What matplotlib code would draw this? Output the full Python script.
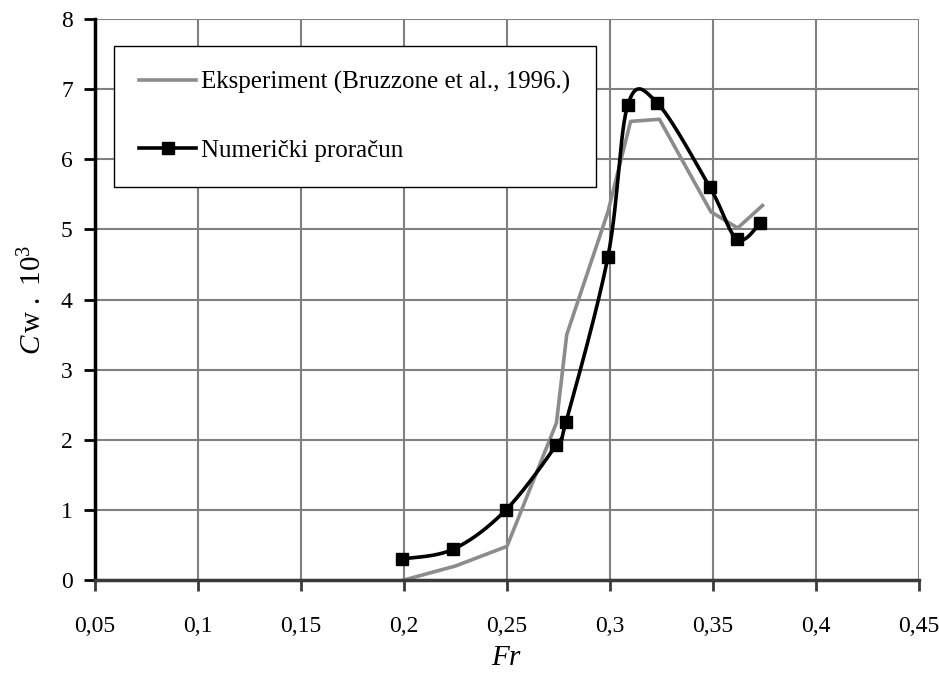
import numpy as np
import matplotlib
matplotlib.use("Agg")
import matplotlib.pyplot as plt
from matplotlib.ticker import FuncFormatter, MultipleLocator

plt.rcParams['font.family'] = ['Liberation Serif', 'DejaVu Serif']
plt.rcParams['mathtext.fontset'] = 'custom'
plt.rcParams['mathtext.rm'] = 'Liberation Serif'
plt.rcParams['mathtext.it'] = 'Liberation Serif:italic'

# Eksperiment (Bruzzone et al., 1996.)
fr_exp = [0.200, 0.225, 0.250, 0.274, 0.279, 0.299, 0.310, 0.324, 0.349, 0.362, 0.374]
cw_exp = [0.00, 0.20, 0.48, 2.24, 3.50, 5.25, 6.54, 6.57, 5.25, 5.02, 5.34]

# Numerički proračun
fr_num = [0.199, 0.224, 0.2495, 0.274, 0.2786, 0.299, 0.3087, 0.323, 0.3485, 0.3617, 0.373]
cw_num = [0.30, 0.44, 1.00, 1.93, 2.25, 4.61, 6.78, 6.80, 5.60, 4.86, 5.09]


def smooth(x, y, n=30):
    # bezier smoothing like the spreadsheet "smoothed line"
    p = np.column_stack([x, y])
    out = [p[0]]
    for i in range(len(p) - 1):
        p0 = p[i - 1] if i > 0 else p[i]
        p3 = p[i + 2] if i + 2 < len(p) else p[i + 1]
        c1 = p[i] + (p[i + 1] - p0) / 6
        c2 = p[i + 1] - (p3 - p[i]) / 6
        t = np.linspace(0, 1, n)[1:, None]
        seg = ((1 - t) ** 3 * p[i] + 3 * (1 - t) ** 2 * t * c1
               + 3 * (1 - t) * t ** 2 * c2 + t ** 3 * p[i + 1])
        out.extend(seg)
    out = np.array(out)
    return out[:, 0], out[:, 1]


fig = plt.figure(figsize=(9.39, 6.81), dpi=100)
ax = fig.add_axes([95 / 939, 1 - 580 / 681, 824 / 939, 561 / 681])

ax.plot(fr_exp, cw_exp, color='#8c8c8c', lw=2.6, label='Eksperiment (Bruzzone et al., 1996.)',
        zorder=3)
sx, sy = smooth(fr_num, cw_num)
ax.plot(sx, sy, color='black', lw=2.6, zorder=4)
ax.plot(fr_num, cw_num, 's', color='black', ms=9, zorder=5)
ax.plot([], [], '-s', color='black', lw=2.6, ms=9, label='Numerički proračun')

ax.set_xlim(0.05, 0.45)
ax.set_ylim(0, 8)
ax.xaxis.set_major_locator(MultipleLocator(0.05))
ax.yaxis.set_major_locator(MultipleLocator(1))
ax.xaxis.set_major_formatter(FuncFormatter(lambda v, p: f'{v:.2f}'.rstrip('0').replace('.', ',')))
ax.grid(True, color='#808080', lw=1.5)
ax.set_axisbelow(True)

for s in ['top', 'right']:
    ax.spines[s].set_visible(False)
ax.spines['left'].set_linewidth(2.5)
ax.spines['left'].set_color('black')
ax.spines['bottom'].set_linewidth(2.5)
ax.spines['bottom'].set_color('#3a3a3a')
ax.spines['bottom'].set_zorder(6)
ax.tick_params(axis='y', direction='out', length=8, width=2, color='black',
               labelsize=17, pad=8)
ax.tick_params(axis='x', direction='out', length=8, width=2, color='#3a3a3a',
               labelsize=17, pad=18)

ax.set_xlabel('$Fr$', fontsize=21, labelpad=6)
ax.set_ylabel(r'$C\,\mathrm{w}\ .\ 10^3$', fontsize=21, labelpad=10)

leg = ax.legend(loc='upper left', bbox_to_anchor=(0.023, 0.952), fontsize=18,
                frameon=True, fancybox=False, edgecolor='black', framealpha=1,
                handlelength=2.3, handletextpad=0.2, labelspacing=1.8,
                borderpad=1.0, borderaxespad=0)
leg.get_frame().set_linewidth(1.0)
leg.set_zorder(10)

fig.savefig('out.png', dpi=100)
